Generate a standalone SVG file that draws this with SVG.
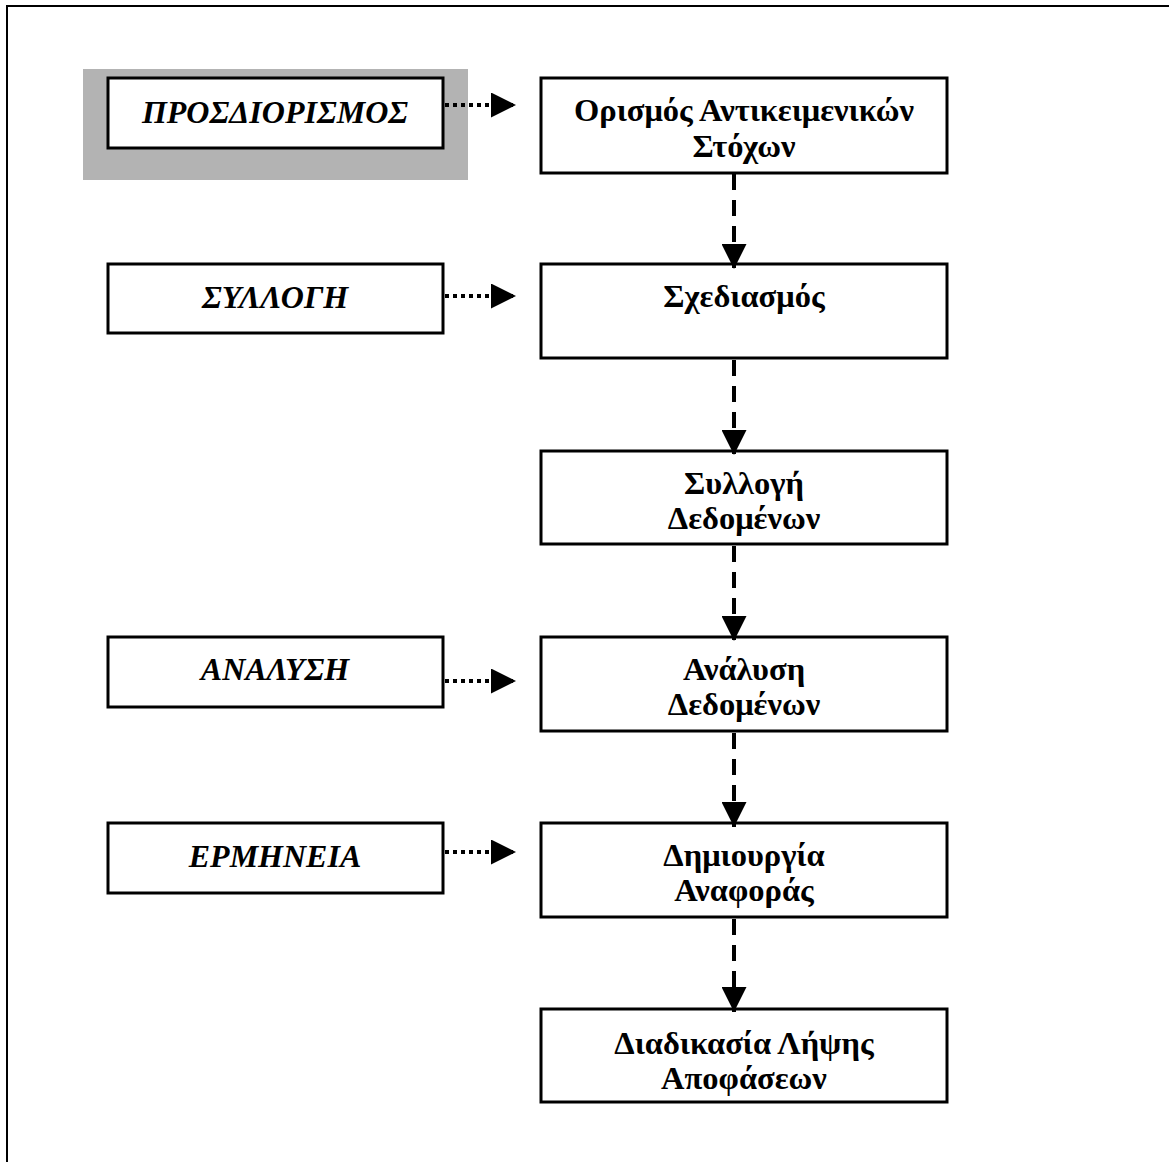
<svg xmlns="http://www.w3.org/2000/svg" width="1169" height="1162" viewBox="0 0 1169 1162">
<style>
.box{fill:#fff;stroke:#000;stroke-width:3}
.lt{font-family:"Liberation Serif","Times New Roman",serif;font-size:32px;font-weight:bold;font-style:italic;text-anchor:middle}
.rt{font-family:"Liberation Serif","Times New Roman",serif;font-size:32.5px;font-weight:bold;text-anchor:middle}
.dash{stroke:#000;stroke-width:4;stroke-dasharray:16 10;fill:none}
.dot{stroke:#000;stroke-width:4;stroke-dasharray:4 4;fill:none}
</style>
<defs>
<marker id="ah" markerWidth="25" markerHeight="25" refX="25" refY="12.5" orient="auto" markerUnits="userSpaceOnUse">
<path d="M0,0 L25,12.5 L0,25 Z" fill="#000"/>
</marker>
</defs>
<rect width="1169" height="1162" fill="#fff"/>
<path d="M7,1162 L7,6 L1169,6" fill="none" stroke="#000" stroke-width="2"/>
<g id="n-prosdiorismos">
<rect x="83" y="69" width="385" height="111" fill="#b3b3b3"/>
<rect class="box" x="108" y="78" width="335" height="70"/>
<text class="lt" x="275" y="123">ΠΡΟΣΔΙΟΡΙΣΜΟΣ</text>
</g>
<g id="n-syllogh">
<rect class="box" x="108" y="264" width="335" height="69"/>
<text class="lt" x="275" y="308">ΣΥΛΛΟΓΗ</text>
</g>
<g id="n-analysh">
<rect class="box" x="108" y="637" width="335" height="70"/>
<text class="lt" x="275" y="680">ΑΝΑΛΥΣΗ</text>
</g>
<g id="n-ermhneia">
<rect class="box" x="108" y="823" width="335" height="70"/>
<text class="lt" x="275" y="867">ΕΡΜΗΝΕΙΑ</text>
</g>
<g id="n-orismos">
<rect class="box" x="541" y="78" width="406" height="95"/>
<text class="rt" x="744" y="121">Ορισμός Αντικειμενικών</text>
<text class="rt" x="744" y="157">Στόχων</text>
</g>
<g id="n-sxediasmos">
<rect class="box" x="541" y="264" width="406" height="94"/>
<text class="rt" x="744" y="307">Σχεδιασμός</text>
</g>
<g id="n-syllogi">
<rect class="box" x="541" y="451" width="406" height="93"/>
<text class="rt" x="744" y="494">Συλλογή</text>
<text class="rt" x="744" y="529">Δεδομένων</text>
</g>
<g id="n-analysi">
<rect class="box" x="541" y="637" width="406" height="94"/>
<text class="rt" x="744" y="680">Ανάλυση</text>
<text class="rt" x="744" y="715">Δεδομένων</text>
</g>
<g id="n-dimiourgia">
<rect class="box" x="541" y="823" width="406" height="94"/>
<text class="rt" x="744" y="866">Δημιουργία</text>
<text class="rt" x="744" y="901">Αναφοράς</text>
</g>
<g id="n-diadikasia">
<rect class="box" x="541" y="1009" width="406" height="93"/>
<text class="rt" x="744" y="1054">Διαδικασία Λήψης</text>
<text class="rt" x="744" y="1089">Αποφάσεων</text>
</g>
<g id="connectors">
<path class="dot" d="M445,105 L516,105" marker-end="url(#ah)"/>
<path class="dot" d="M445,296 L516,296" marker-end="url(#ah)"/>
<path class="dot" d="M445,681 L516,681" marker-end="url(#ah)"/>
<path class="dot" d="M445,852 L516,852" marker-end="url(#ah)"/>
<path class="dash" d="M734,174 L734,269" marker-end="url(#ah)"/>
<path class="dash" d="M734,360 L734,455" marker-end="url(#ah)"/>
<path class="dash" d="M734,546 L734,641" marker-end="url(#ah)"/>
<path class="dash" d="M734,733 L734,827" marker-end="url(#ah)"/>
<path class="dash" d="M734,919 L734,1012" marker-end="url(#ah)"/>
</g>
</svg>
